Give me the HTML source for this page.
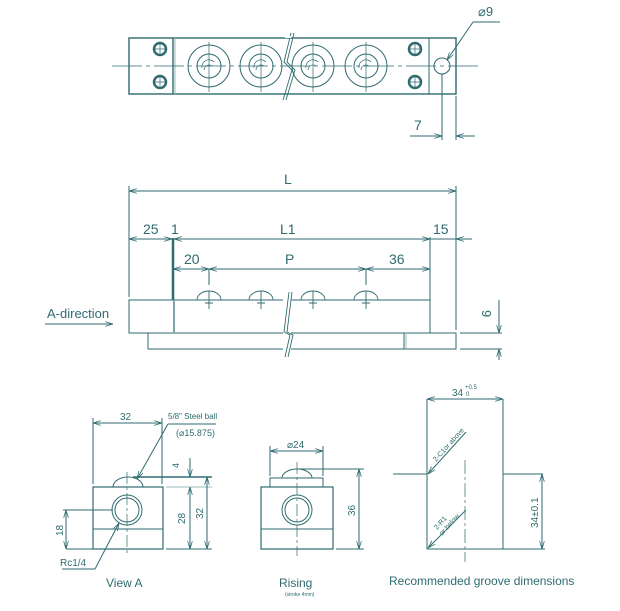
<!DOCTYPE html>
<html><head><meta charset="utf-8"><style>
html,body{margin:0;padding:0;background:#fff;}
svg{display:block;}
text{font-family:"Liberation Sans",sans-serif;fill:#2f6b70;}
</style></head><body>
<svg width="620" height="611" viewBox="0 0 620 611" xmlns="http://www.w3.org/2000/svg">
<defs>
<marker id="a" viewBox="0 0 10 6" refX="10" refY="3" markerWidth="8" markerHeight="5" orient="auto-start-reverse" markerUnits="userSpaceOnUse"><path d="M0,0 L10,3 L0,6" fill="none" stroke="#2f6b70" stroke-width="1"/></marker>
</defs>
<g stroke="#2f6b70" stroke-width="1" fill="none">
<!-- TOP VIEW -->
<rect x="129" y="38" width="327" height="56" stroke-width="1.4"/>
<line x1="173" y1="38" x2="173" y2="94" stroke-width="1.4"/>
<line x1="175" y1="38" x2="175" y2="94" stroke="#9bb8ba"/>
<line x1="429" y1="38" x2="429" y2="94"/>
<line x1="112" y1="66" x2="478" y2="66" stroke-width="0.8" stroke-dasharray="30,4,4,4"/>
<g stroke-width="2.5"><circle cx="160" cy="49" r="6"/><circle cx="160" cy="82" r="6"/><circle cx="415" cy="49" r="6"/><circle cx="415" cy="82" r="6"/></g>
<g stroke-width="0.7"><path d="M160 42v14M153 49h14M160 75v14M153 82h14M415 42v14M408 49h14M415 75v14M408 82h14"/></g>
<g>
<circle cx="209" cy="66" r="21"/><circle cx="209" cy="66" r="12"/>
<circle cx="261" cy="66" r="21"/><circle cx="261" cy="66" r="12"/>
<circle cx="313" cy="66" r="21"/><circle cx="313" cy="66" r="12"/>
<circle cx="366" cy="66" r="21"/><circle cx="366" cy="66" r="12"/>
<path d="M209 42v50M261 42v50M313 42v50M366 42v50" stroke-width="0.7"/>
<path d="M202 68a7 7 0 0 1 12-6M204 70a5 5 0 0 1 8-4M254 68a7 7 0 0 1 12-6M256 70a5 5 0 0 1 8-4M306 68a7 7 0 0 1 12-6M308 70a5 5 0 0 1 8-4M359 68a7 7 0 0 1 12-6M361 70a5 5 0 0 1 8-4" stroke-width="0.7"/>
</g>
<path d="M291 33 L284 62 L292 70 L283 100 M294 33 L287 62 L295 70 L286 100" stroke-width="0.9"/>
<rect x="285" y="36" width="6" height="2" fill="#fff" stroke="none"/>
<circle cx="442" cy="66" r="8"/>
<line x1="442" y1="74" x2="442" y2="140"/>
<line x1="456" y1="96" x2="456" y2="140"/>
<line x1="410" y1="136" x2="442" y2="136" marker-end="url(#a)"/>
<line x1="475" y1="136" x2="456" y2="136" marker-end="url(#a)"/>
<line x1="500" y1="22" x2="473" y2="22"/>
<line x1="473" y1="22" x2="447" y2="60" marker-end="url(#a)"/>
<!-- SIDE VIEW -->
<line x1="129" y1="186" x2="129" y2="297"/>
<line x1="456" y1="186" x2="456" y2="330"/>
<line x1="173" y1="238" x2="173" y2="300" stroke-width="2.5"/>
<line x1="430" y1="237" x2="430" y2="300"/>
<line x1="129" y1="191" x2="456" y2="191" marker-start="url(#a)" marker-end="url(#a)"/>
<line x1="129" y1="239" x2="172" y2="239" marker-start="url(#a)" marker-end="url(#a)"/>
<line x1="174" y1="239" x2="430" y2="239" marker-start="url(#a)" marker-end="url(#a)"/>
<line x1="430" y1="239" x2="472" y2="239"/>
<line x1="472" y1="239" x2="456" y2="239" marker-end="url(#a)"/>
<line x1="173" y1="269" x2="430" y2="269"/>
<line x1="173" y1="269" x2="209" y2="269" marker-start="url(#a)" marker-end="url(#a)"/>
<line x1="209" y1="269" x2="366" y2="269" marker-start="url(#a)" marker-end="url(#a)"/>
<line x1="366" y1="269" x2="430" y2="269" marker-start="url(#a)" marker-end="url(#a)"/>
<path d="M209 269v16M366 269v16"/>
<rect x="129" y="300" width="301" height="33"/>
<line x1="174" y1="300" x2="174" y2="333" stroke-width="2" stroke="#7fa3a6"/>
<path d="M148 333 V349 H456 V333 H430"/>
<line x1="404" y1="333" x2="404" y2="349"/>
<line x1="406" y1="333" x2="406" y2="349" stroke="#9bb8ba"/>
<g stroke-width="0.9">
<path d="M197 300a12 9 0 0 1 24 0M249 300a12 9 0 0 1 24 0M301 300a12 9 0 0 1 24 0M354 300a12 9 0 0 1 24 0"/>
<path d="M209 291v18M205 303h8M261 291v18M257 303h8M313 291v18M309 303h8M366 291v18M362 303h8"/>
</g>
<rect x="283" y="298" width="8" height="55" fill="#fff" stroke="none"/>
<path d="M289 292 L284 332 L290 335 L285 357 M292 292 L287 332 L293 335 L288 357" stroke-width="0.9"/>
<line x1="45" y1="324" x2="113" y2="324" marker-end="url(#a)"/>
<line x1="460" y1="333" x2="502" y2="333"/>
<line x1="460" y1="349" x2="502" y2="349"/>
<line x1="499" y1="300" x2="499" y2="333" marker-end="url(#a)"/>
<line x1="499" y1="360" x2="499" y2="349" marker-end="url(#a)"/>
<!-- VIEW A -->
<rect x="93" y="487" width="70" height="62" stroke-width="1.2"/>
<line x1="93" y1="529" x2="163" y2="529"/>
<path d="M113 487a15 10 0 0 1 30 0"/>
<circle cx="127" cy="510" r="15"/><circle cx="127" cy="510" r="12"/>
<line x1="127" y1="472" x2="127" y2="556" stroke-width="0.7" stroke-dasharray="12,3,3,3"/>
<line x1="93" y1="418" x2="93" y2="484"/>
<line x1="162" y1="418" x2="162" y2="484"/>
<line x1="93" y1="423" x2="162" y2="423" marker-start="url(#a)" marker-end="url(#a)"/>
<line x1="133" y1="477" x2="212" y2="477" stroke-width="1.6"/>
<line x1="166" y1="487" x2="212" y2="487" stroke="#9bb8ba"/>
<line x1="166" y1="549" x2="212" y2="549"/>
<line x1="190" y1="458" x2="190" y2="477" marker-end="url(#a)"/>
<line x1="190" y1="549" x2="190" y2="487" marker-end="url(#a)"/>
<line x1="190" y1="487" x2="190" y2="549" marker-end="url(#a)"/>
<line x1="207" y1="477" x2="207" y2="549" marker-start="url(#a)" marker-end="url(#a)"/>
<line x1="63" y1="510" x2="113" y2="510"/>
<line x1="66" y1="510" x2="66" y2="549" marker-start="url(#a)" marker-end="url(#a)"/>
<line x1="66" y1="549" x2="93" y2="549"/>
<path d="M216 424 H168"/>
<line x1="168" y1="424" x2="137" y2="479" marker-end="url(#a)"/>
<path d="M62 569 H95"/>
<line x1="95" y1="569" x2="119" y2="523" marker-end="url(#a)"/>
<!-- RISING -->
<rect x="261" y="487" width="72" height="62" stroke-width="1.2"/>
<line x1="261" y1="529" x2="333" y2="529"/>
<rect x="270" y="478" width="53" height="9"/>
<path d="M282 478a15 9 0 0 1 30 0"/>
<circle cx="297" cy="510" r="15"/><circle cx="297" cy="510" r="12"/>
<line x1="297" y1="462" x2="297" y2="556" stroke-width="0.7" stroke-dasharray="12,3,3,3"/>
<line x1="270" y1="446" x2="270" y2="476"/>
<line x1="323" y1="446" x2="323" y2="476"/>
<line x1="270" y1="451" x2="323" y2="451" marker-start="url(#a)" marker-end="url(#a)"/>
<line x1="299" y1="469" x2="364" y2="469"/>
<line x1="336" y1="549" x2="364" y2="549"/>
<line x1="359" y1="469" x2="359" y2="549" marker-start="url(#a)" marker-end="url(#a)"/>
<!-- GROOVE -->
<path d="M427 399 V549 H503 V474 H543 M503 474 V399"/>
<line x1="393" y1="474" x2="427" y2="474"/>
<line x1="503" y1="549" x2="545" y2="549"/>
<line x1="427" y1="399" x2="503" y2="399" marker-start="url(#a)" marker-end="url(#a)"/>
<line x1="542" y1="474" x2="542" y2="549" marker-start="url(#a)" marker-end="url(#a)"/>
<line x1="465" y1="460" x2="465" y2="562" stroke-width="0.7" stroke-dasharray="14,3,3,3"/>
<line x1="466" y1="432" x2="428" y2="474" marker-end="url(#a)"/>
<line x1="466" y1="510" x2="428" y2="548" marker-end="url(#a)"/>
</g>
<g font-size="14">
<text x="478" y="16" font-size="13">⌀9</text>
<text x="414" y="130">7</text>
<text x="284" y="184">L</text>
<text x="143" y="234">25</text>
<text x="171" y="234">1</text>
<text x="280" y="234">L1</text>
<text x="433" y="234">15</text>
<text x="184" y="264">20</text>
<text x="285" y="264">P</text>
<text x="389" y="264">36</text>
<text x="47" y="318" font-size="13">A-direction</text>
<text transform="translate(482,310) rotate(90)" font-size="13">9</text>
<text x="120" y="420" font-size="10">32</text>
<text x="168" y="419" font-size="8">5/8" Steel ball</text>
<text x="176" y="436" font-size="9">(⌀15.875)</text>
<text transform="translate(179,468) rotate(-90)" font-size="9">4</text>
<text transform="translate(185,524) rotate(-90)" font-size="10">28</text>
<text transform="translate(203,519) rotate(-90)" font-size="10">32</text>
<text transform="translate(63,536) rotate(-90)" font-size="10">18</text>
<text x="60" y="566" font-size="10">Rc1/4</text>
<text x="106" y="587" font-size="12">View A</text>
<text x="287" y="448" font-size="10">⌀24</text>
<text transform="translate(355,516) rotate(-90)" font-size="10">36</text>
<text x="279" y="587" font-size="12">Rising</text>
<text x="285" y="596" font-size="5">(stroke 4mm)</text>
<text x="452" y="396" font-size="10">34</text>
<text x="465" y="389" font-size="6">+0.5</text>
<text x="466" y="396" font-size="6">0</text>
<text transform="translate(538,528) rotate(-90)" font-size="10">34±0.1</text>
<text transform="translate(436,462) rotate(-48)" font-size="7">2-C1or above</text>
<text transform="translate(437,530) rotate(-48)" font-size="7">2-R1</text>
<text transform="translate(442,536) rotate(-48)" font-size="7">or below</text>
<text x="389" y="585" font-size="12">Recommended groove dimensions</text>
</g>
</svg>
</body></html>
